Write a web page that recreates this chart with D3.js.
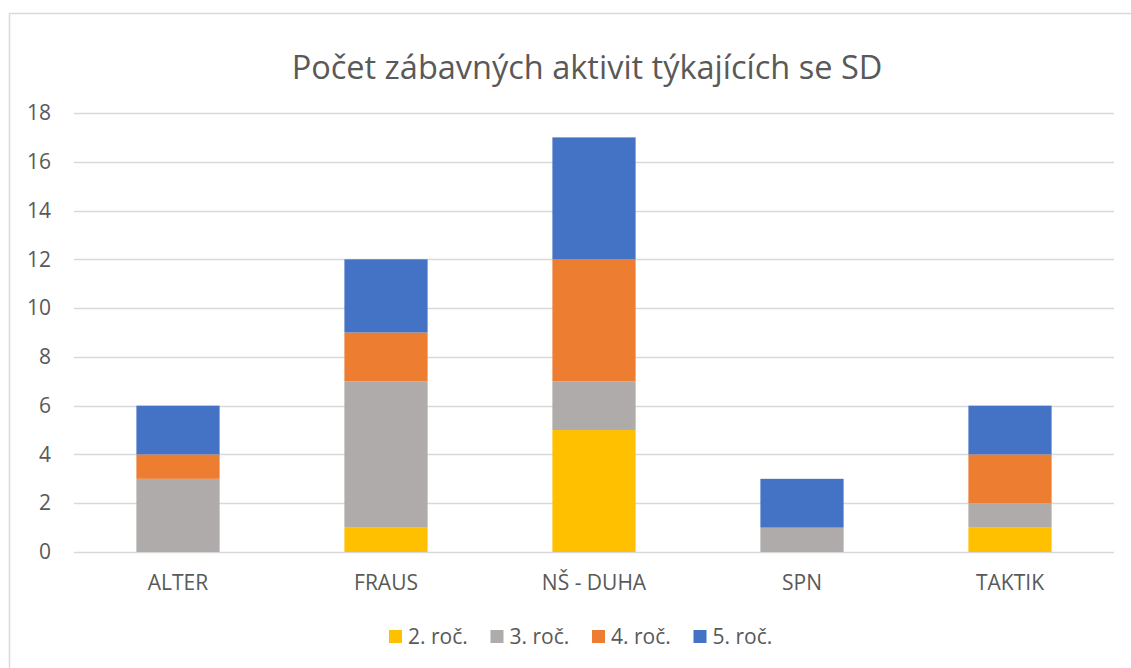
<!DOCTYPE html>
<html>
<head>
<meta charset="utf-8">
<script src="https://cdn.jsdelivr.net/npm/d3@7"></script>
<style>
  body { margin: 0; background: #fff; }
  text { font-family: "Open Sans", sans-serif; fill: #595959; }
</style>
</head>
<body>
<div id="chart"></div>
<script>
// Data
const categories = ["ALTER", "FRAUS", "NŠ - DUHA", "SPN", "TAKTIK"];
const seriesNames = ["2. roč.", "3. roč.", "4. roč.", "5. roč."];
const values2 = [0, 1, 5, 0, 1];
const values3 = [3, 6, 2, 1, 1];
const values4 = [1, 2, 5, 0, 2];
const values5 = [2, 3, 5, 2, 2];
const yTicks = [0, 2, 4, 6, 8, 10, 12, 14, 16, 18];
const colors = ["#FFC000", "#AEABAA", "#ED7D31", "#4472C4"];

const width = 1131, height = 668;

const svg = d3.select("#chart")
    .append("svg")
    .attr("width", width)
    .attr("height", height);

// chart frame (extends past the right and bottom edges)
svg.append("rect")
    .attr("x", 9.5).attr("y", 13.5)
    .attr("width", 1140).attr("height", 680)
    .attr("fill", "#fff")
    .attr("stroke", "#D9D9D9")
    .attr("stroke-width", 1.5);

// build a table the stack layout can use
const table = categories.map((c, i) => ({
    cat: c,
    "2. roč.": values2[i],
    "3. roč.": values3[i],
    "4. roč.": values4[i],
    "5. roč.": values5[i]
}));
const stacked = d3.stack().keys(seriesNames)(table);

// Scales
const x = d3.scaleBand()
    .domain(categories)
    .range([74, 1114])
    .paddingInner(0.6)
    .paddingOuter(0.3);

const y = d3.scaleLinear()
    .domain([0, 18])
    .range([552, 113]);

// Gridlines
svg.append("g")
    .selectAll("line")
    .data(yTicks)
    .join("line")
    .attr("x1", 74).attr("x2", 1114)
    .attr("y1", d => Math.round(y(d)) + 0.5)
    .attr("y2", d => Math.round(y(d)) + 0.5)
    .attr("stroke", "#D9D9D9")
    .attr("stroke-width", 1.3);

// Y axis labels
const yAxis = svg.append("g")
    .attr("transform", "translate(74,0)")
    .call(d3.axisLeft(y).tickValues(yTicks).tickSize(0).tickPadding(23));
yAxis.select(".domain").remove();
yAxis.selectAll("text")
    .attr("font-family", "Open Sans, sans-serif")
    .attr("font-size", 21)
    .attr("fill", "#595959");

// Bars
svg.append("g")
    .selectAll("g")
    .data(stacked)
    .join("g")
    .attr("fill", (d, i) => colors[i])
    .selectAll("rect")
    .data(d => d)
    .join("rect")
    .attr("x", d => x(d.data.cat))
    .attr("y", d => y(d[1]))
    .attr("width", x.bandwidth())
    .attr("height", d => y(d[0]) - y(d[1]));

// X axis labels
const xAxis = svg.append("g")
    .attr("transform", "translate(0,552)")
    .call(d3.axisBottom(x).tickSize(0).tickPadding(23));
xAxis.select(".domain").remove();
xAxis.selectAll("text")
    .attr("font-family", "Open Sans, sans-serif")
    .attr("font-size", 21)
    .attr("fill", "#595959");

// Title
svg.append("text")
    .attr("x", 587)
    .attr("y", 79)
    .attr("text-anchor", "middle")
    .attr("font-size", 32.5)
    .text("Počet zábavných aktivit týkajících se SD");

// Legend
const legend = svg.append("g")
    .selectAll("g")
    .data(seriesNames)
    .join("g")
    .attr("transform", (d, i) => `translate(${389 + i * 101.5},630)`);
legend.append("rect")
    .attr("width", 13).attr("height", 13)
    .attr("fill", (d, i) => colors[i]);
legend.append("text")
    .attr("x", 19)
    .attr("y", 13.5)
    .attr("font-size", 21)
    .text(d => d);
</script>
</body>
</html>
